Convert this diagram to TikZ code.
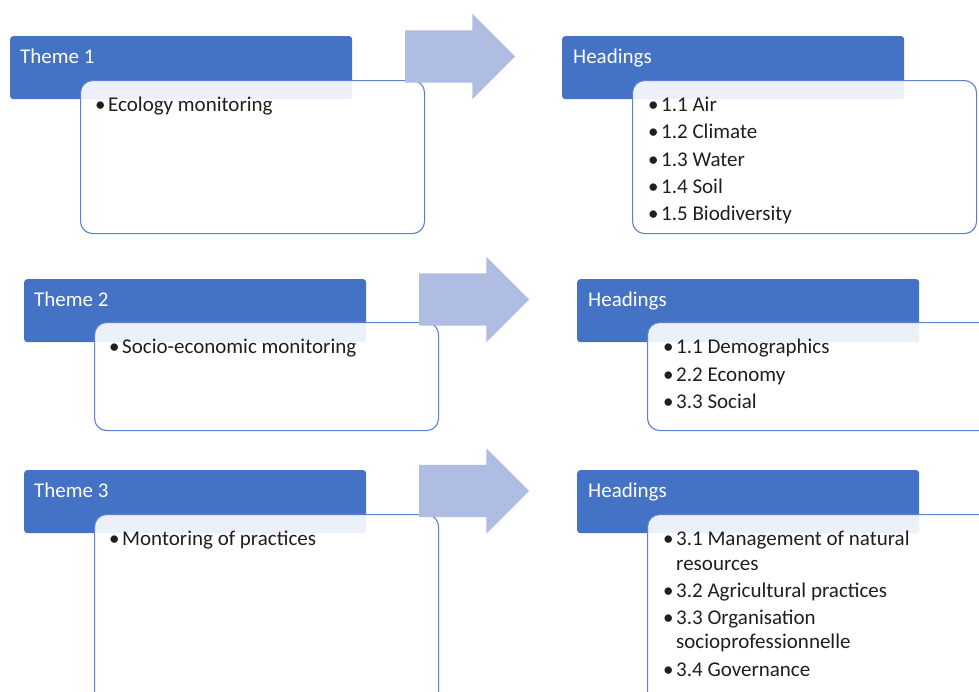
\documentclass[tikz,border=0pt]{standalone}
\usepackage{fontspec}
\setmainfont{Carlito}
\usetikzlibrary{positioning,shapes.arrows}

\definecolor{themeblue}{RGB}{68,114,196}
\definecolor{edgeblue}{RGB}{93,128,208}
\definecolor{arrowblue}{RGB}{176,189,226}

\newcommand{\bitem}[1]{\makebox[13pt][l]{\textbullet}#1}
\newcommand{\bwrap}[1]{\hspace*{13pt}#1}

\begin{document}
\begin{tikzpicture}[
  x=1pt, y=1pt,
  headbox/.style={fill=themeblue, rounded corners=3pt, minimum width=342pt, minimum height=63pt, anchor=north west, inner sep=0pt},
  headtext/.style={text=white, font=\fontsize{21}{25}\selectfont, inner sep=0pt},
  listbox/.style={draw=edgeblue, line width=1.1pt, fill=white, fill opacity=0.9, rounded corners=12pt, minimum width=344pt, inner sep=0pt},
  listtext/.style={font=\fontsize{21}{27.3}\selectfont, align=left, inner sep=0pt, text=black!88},
  bigarrow/.style={single arrow, fill=arrowblue, text width=0pt, text height=26pt, text depth=26pt,
    minimum height=110pt, single arrow head extend=16.5pt, inner sep=0pt}
]
\useasboundingbox (0,0) rectangle (979,-691);

% header boxes
\node[headbox] (t1) at (10,-36) {};
\node[headbox] (h1) at (562,-36) {};
\node[headbox] (t2) at (24,-279) {};
\node[headbox] (h2) at (577,-279) {};
\node[headbox] (t3) at (24,-470) {};
\node[headbox] (h3) at (577,-470) {};

% list boxes
\node[listbox, minimum height=153pt, below right=44pt and 70pt of t1.north west] (b1) {};
\node[listbox, minimum height=153pt, below right=44pt and 70pt of h1.north west] (r1) {};
\node[listbox, minimum height=108pt, below right=43pt and 70pt of t2.north west] (b2) {};
\node[listbox, minimum height=108pt, below right=43pt and 70pt of h2.north west] (r2) {};
\node[listbox, minimum height=190pt, below right=44pt and 70pt of t3.north west] (b3) {};
\node[listbox, minimum height=190pt, below right=44pt and 70pt of h3.north west] (r3) {};

% arrows
\node[bigarrow] (a1) at (447,-56.5) {};
\node[bigarrow] (a2) at (461,-299.5) {};
\node[bigarrow] (a3) at (461,-491) {};

% header texts
\node[headtext, below right=12.5pt and 10pt of t1.north west] (t1txt) {Theme 1};
\node[headtext, below right=12.5pt and 11pt of h1.north west] (h1txt) {Headings};
\node[headtext, below right=12.5pt and 10pt of t2.north west] (t2txt) {Theme 2};
\node[headtext, below right=12.5pt and 11pt of h2.north west] (h2txt) {Headings};
\node[headtext, below right=12.5pt and 10pt of t3.north west] (t3txt) {Theme 3};
\node[headtext, below right=12.5pt and 11pt of h3.north west] (h3txt) {Headings};

% list texts
\node[listtext, below right=17pt and 15pt of b1.north west] (b1txt) {\bitem{Ecology monitoring}};
\node[listtext, below right=17pt and 16pt of r1.north west] (r1txt)
  {\bitem{1.1 Air}\\ \bitem{1.2 Climate}\\ \bitem{1.3 Water}\\ \bitem{1.4 Soil}\\ \bitem{1.5 Biodiversity}};
\node[listtext, below right=17pt and 15pt of b2.north west] (b2txt) {\bitem{Socio-economic monitoring}};
\node[listtext, below right=17pt and 16pt of r2.north west] (r2txt)
  {\bitem{1.1 Demographics}\\ \bitem{2.2 Economy}\\ \bitem{3.3 Social}};
\node[listtext, below right=17pt and 15pt of b3.north west] (b3txt) {\bitem{Montoring of practices}};
\node[listtext, below right=17pt and 16pt of r3.north west] (r3txt)
  {\bitem{3.1 Management of natural}\\[-3pt] \bwrap{resources}\\ \bitem{3.2 Agricultural practices}\\
   \bitem{3.3 Organisation}\\[-3pt] \bwrap{socioprofessionnelle}\\ \bitem{3.4 Governance}};
\end{tikzpicture}
\end{document}
